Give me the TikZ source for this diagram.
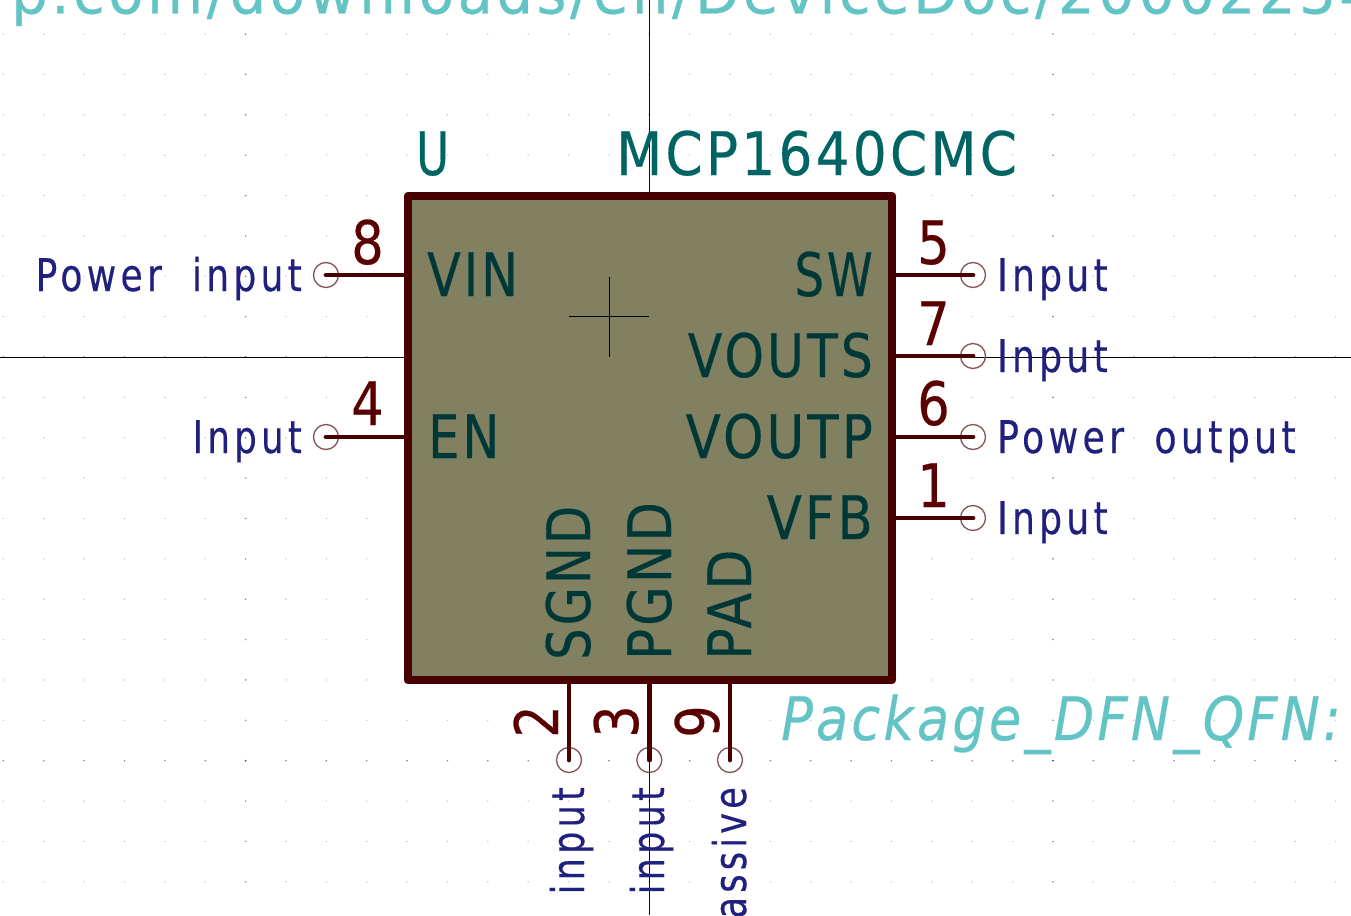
\documentclass[tikz,border=0pt]{standalone}
\usepackage{fontspec}
\setmainfont{DejaVu Sans}
\newfontfamily\plainfont[FakeBold=.4]{DejaVu Sans}
\newfontfamily\spacedfont[LetterSpace=6,FakeBold=.4]{DejaVu Sans}
\newfontfamily\typefont[LetterSpace=12,FakeBold=.4]{DejaVu Sans}
\definecolor{boxline}{HTML}{480000}
\definecolor{boxfill}{HTML}{818161}
\definecolor{numtext}{HTML}{5B0000}
\definecolor{nametext}{HTML}{003838}
\definecolor{typetext}{HTML}{20207F}
\definecolor{reftext}{HTML}{006464}
\definecolor{fptext}{HTML}{62C4C4}
\definecolor{circline}{HTML}{845454}
\definecolor{crossnavy}{HTML}{000060}
\tikzset{
  icbox/.style={draw=boxline,fill=boxfill,line width=8.4pt,line join=round,minimum size=484pt,inner sep=0pt},
  pincirc/.style={circle,draw=circline,line width=1.3pt,minimum size=25pt,inner sep=0pt},
  pinline/.style={draw=boxline,line width=4.8pt,line cap=round},
  hair/.style={line width=.9pt},
  pinnum/.style={text=numtext,font=\fontsize{60}{60}\selectfont\plainfont,inner sep=0pt,anchor=base,xscale=.85},
  pinnumv/.style={text=numtext,font=\fontsize{60}{60}\selectfont\plainfont,inner sep=0pt,anchor=base,rotate=90,xscale=.85},
  pinname/.style={text=nametext,font=\fontsize{60}{60}\selectfont\spacedfont,inner sep=0pt},
  pintype/.style={text=typetext,font=\fontsize{45}{45}\selectfont\typefont,inner sep=0pt},
  refname/.style={text=reftext,font=\fontsize{60}{60}\selectfont\spacedfont,inner sep=0pt,anchor=base west},
  fpname/.style={text=fptext,font=\fontsize{60}{60}\selectfont\spacedfont,inner sep=0pt,anchor=base west}
}
\begin{document}
\begin{tikzpicture}[x=1pt,y=-1pt]
  \clip (0,0) rectangle (1351,915);
  \fill[white] (0,0) rectangle (1351,915);

  % Grid
  \foreach \i in {-16,...,17}
    \foreach \j in {-8,...,14} {
      \pgfmathtruncatemacro{\major}{(mod(abs(\i),10)==0)+(mod(abs(\j),10)==0)}
      \ifcase\major
        \fill[black!22] ({649.3+40.37*\i},{357+40.37*\j}) circle (.8);
      \or
        \fill[black!45] ({649.3+40.37*\i},{357+40.37*\j}) circle (.9);
      \else
        \fill[black!70] ({649.3+40.37*\i},{357+40.37*\j}) circle (1);
      \fi
    }

  % Axes
  \coordinate (axt) at (649.3,0);
  \coordinate (axb) at (649.3,915);
  \coordinate (axl) at (0,357);
  \coordinate (axr) at (1351,357);
  \draw[hair,crossnavy] (axt) -- (axb);
  \draw[hair] (axl) -- (axr);

  % Chip
  \node[icbox] (ic) at (650,438) {};
  \coordinate (markl) at (569,316);
  \coordinate (markr) at (649,316);
  \coordinate (markt) at (609,277);
  \coordinate (markb) at (609,357);
  \draw[hair] (markl) -- (markr);
  \draw[hair] (markt) -- (markb);

  % Pin ends
  \node[pincirc] (p8) at (326,275) {};
  \node[pincirc] (p4) at (326,437) {};
  \node[pincirc] (p5) at (973,275) {};
  \node[pincirc] (p7) at (973,356) {};
  \node[pincirc] (p6) at (973,437) {};
  \node[pincirc] (p1) at (973,518) {};
  \node[pincirc] (p2) at (569,760) {};
  \node[pincirc] (p3) at (649.3,760) {};
  \node[pincirc] (p9) at (730,760) {};

  % Pins
  \foreach \to in {p8,p4}
    \draw[pinline] (\to.center) -- (ic.west |- \to.center);
  \foreach \to in {p5,p7,p6,p1}
    \draw[pinline] (\to.center) -- (ic.east |- \to.center);
  \foreach \to in {p2,p3,p9}
    \draw[pinline] (\to.center) -- (\to.center |- ic.south);

  % Numbers
  \node[pinnum] (n8) at (367.5,264) {8};
  \node[pinnum] (n4) at (367.5,425) {4};
  \node[pinnum] (n5) at (933.5,264) {5};
  \node[pinnum] (n7) at (933.5,345) {7};
  \node[pinnum] (n6) at (933.5,425) {6};
  \node[pinnum] (n1) at (933.5,507) {1};
  \node[pinnumv] (n2) at (558,721.5) {2};
  \node[pinnumv] (n3) at (638,721.5) {3};
  \node[pinnumv] (n9) at (719,721.5) {9};

  % Names
  \node[pinname,anchor=base west,xscale=.82] (vin) at (427,296) {VIN};
  \node[pinname,anchor=base west,xscale=.825] (en) at (428,458) {EN};
  \node[pinname,anchor=base east,xscale=.775] (sw) at (873,296) {SW};
  \node[pinname,anchor=base east,xscale=.84] (vouts) at (873,377) {VOUTS};
  \node[pinname,anchor=base east,xscale=.857] (voutp) at (873,458) {VOUTP};
  \node[pinname,anchor=base east,xscale=.856] (vfb) at (873,539) {VFB};
  \node[pinname,anchor=base west,rotate=90,xscale=.826] (sgnd) at (590,660) {SGND};
  \node[pinname,anchor=base west,rotate=90,xscale=.855] (pgnd) at (671,660) {PGND};
  \node[pinname,anchor=base west,rotate=90,xscale=.87] (pad) at (751,660) {PAD};

  % Types
  \node[pintype,anchor=base east,xscale=.80] (t8) at (302,291) {Power\hspace{.4em} input};
  \node[pintype,anchor=base east,xscale=.79] (t4) at (302,453) {Input};
  \node[pintype,anchor=base west,xscale=.80] (t5) at (997,291) {Input};
  \node[pintype,anchor=base west,xscale=.80] (t7) at (997,372) {Input};
  \node[pintype,anchor=base west,xscale=.805] (t6) at (997,453) {Power\hspace{.4em} output};
  \node[pintype,anchor=base west,xscale=.80] (t1) at (997,534) {Input};
  \node[pintype,anchor=base east,rotate=90,xscale=.78] (t2) at (584,787) {input};
  \node[pintype,anchor=base east,rotate=90,xscale=.78] (t3) at (664,787) {input};
  \node[pintype,anchor=base east,rotate=90,xscale=.78] (t9) at (746,787) {passive};

  % Reference and value
  \node[refname,xscale=.75] (ref) at (416,175) {U};
  \node[refname,xscale=.89] (val) at (616,175) {MCP1640CMC};

  % Footprint and datasheet
  \node[fpname,font=\fontsize{60}{60}\selectfont\spacedfont\itshape,xscale=.876] (fp) at (781,740) {Package\_DFN\_QFN:};
  \node[fpname,xscale=.962] (ds) at (11,13.5) {p.com/downloads/en/DeviceDoc/20002234};

\end{tikzpicture}
\end{document}
